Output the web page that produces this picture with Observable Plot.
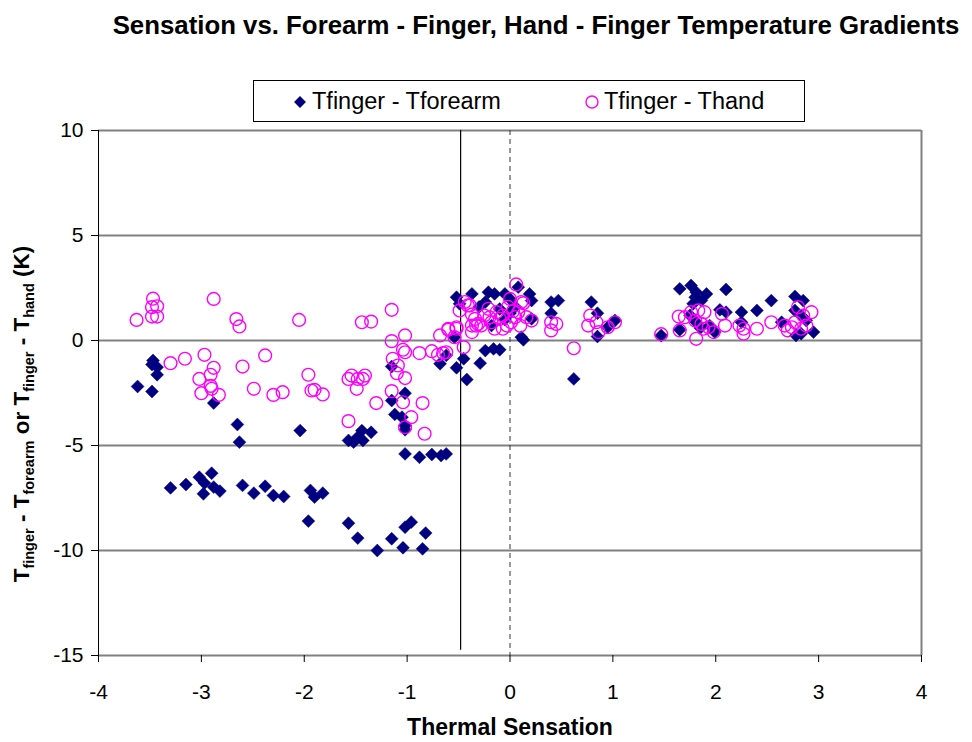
<!DOCTYPE html>
<html><head><meta charset="utf-8">
<script src="https://cdn.jsdelivr.net/npm/d3@7"></script>
<script src="https://cdn.jsdelivr.net/npm/@observablehq/plot@0.6"></script>
<style>
body{margin:0;background:#fff;font-family:"Liberation Sans",Arial,sans-serif;}
#wrap{position:relative;width:972px;height:742px;overflow:hidden;}
#title{position:absolute;left:100px;top:11px;width:872px;text-align:center;font-weight:bold;font-size:25.8px;white-space:nowrap;color:#000;}
#legend{position:absolute;left:253px;top:80px;width:550px;height:40px;border:1px solid #000;background:#fff;font-size:23.5px;color:#000;}
#legend .item{position:absolute;top:0;height:40px;line-height:40px;white-space:nowrap;}
#legend svg{position:absolute;top:13px;}
#chart{position:absolute;left:0;top:0;}
</style></head>
<body>
<div id="wrap">
  <div id="chart"></div>
  <div id="title">Sensation vs. Forearm - Finger, Hand - Finger Temperature Gradients</div>
  <div id="legend"></div>
</div>
<script>
const xTicks = [-4,-3,-2,-1,0,1,2,3,4];
const yTicks = [-15,-10,-5,0,5,10];
const seriesNames = ["Tfinger - Tforearm", "Tfinger - Thand"];

// Tfinger - Tforearm: [thermal sensation, gradient K]
const forearmSensation = [
 -3.47,-3.48,-3.43,-3.43,-3.62,-3.48,-2.88,-2.65,-2.63,-2.04,
 -3.30,-3.15,-3.02,-2.90,-2.97,-2.88,-2.98,-2.82,-2.60,-2.49,-2.38,-2.30,-2.20,-1.94,-1.90,-1.82,-1.96,
 -1.57,-1.52,-1.44,-1.43,-1.35,-1.48,
 -1.15,-1.15,-1.02,-1.12,-1.05,-1.02,-1.02,-1.02,-0.88,-0.76,-0.67,-0.62,
 -0.68,-0.62,-0.52,-0.42,-0.45,-0.29,-0.24,-0.16,-0.10,0.13,
 -1.57,-1.48,-1.29,-1.15,-1.02,-0.96,-1.04,-0.85,-0.82,
 -0.52,-0.49,-0.37,-0.21,-0.15,-0.05,0.08,0.19,0.21,-0.24,-0.18,0.11,-0.54,0.21,-0.10,0.00,-0.05,0.05,0.00,-0.30,
 0.40,0.47,0.40,0.79,0.85,0.85,0.95,1.02,0.62,
 1.47,1.65,1.65,1.76,1.81,1.80,1.91,1.78,1.86,2.10,2.04,2.10,2.25,2.40,2.54,2.25,2.77,2.85,2.77,2.83,2.88,2.95,2.83,2.78,2.64,1.81,1.94,1.99,1.75,1.85
];
const forearmGradient = [
 -0.95,-1.14,-1.27,-1.63,-2.19,-2.43,-2.98,-4.00,-4.84,-4.29,
 -7.02,-6.86,-6.51,-6.32,-6.79,-6.98,-7.30,-7.17,-6.90,-7.27,-6.94,-7.38,-7.43,-7.14,-7.46,-7.27,-8.60,
 -4.76,-4.84,-4.29,-4.76,-4.37,-4.60,
 -1.24,-2.86,-2.51,-3.52,-3.65,-4.05,-4.25,-5.40,-5.56,-5.43,-5.48,-5.40,
 -1.11,-0.71,-1.30,-1.86,-0.87,-1.08,-0.48,-0.40,-0.44,0.03,
 -8.70,-9.41,-10.00,-9.44,-8.89,-8.65,-9.87,-9.92,-9.17,
 2.06,1.75,2.22,2.30,2.22,2.22,2.54,2.22,1.90,1.83,0.71,0.16,0.16,1.03,1.50,1.30,1.00,1.60,1.98,1.60,
 1.83,1.90,1.30,1.83,1.30,0.19,0.63,0.95,-1.83,
 0.24,0.51,2.46,2.62,2.30,2.06,2.22,1.75,1.90,2.43,1.46,1.35,1.35,1.43,1.90,0.87,2.10,1.90,1.43,1.19,0.95,0.40,0.32,0.24,0.87,0.87,0.71,0.40,1.20,0.60
];

// Tfinger - Thand
const handSensation = [
 -3.47,-3.48,-3.43,-3.63,-3.48,-3.43,-2.88,-2.66,-2.63,-2.05,
 -3.30,-3.16,-2.97,-2.88,-2.91,-3.02,-2.91,-2.90,-3.00,-2.83,-2.60,-2.49,-2.38,-2.30,-2.21,-1.96,-1.93,-1.90,-1.82,
 -1.44,-1.35,-1.15,-1.15,-1.02,-1.04,-1.02,-1.14,-1.09,-1.10,-1.02,-1.15,-1.04,-0.96,-1.02,-0.85,-0.83,-1.30,-1.57,
 -1.57,-1.54,-1.48,-1.41,-1.49,-1.43,
 -0.88,-0.76,-0.70,-0.65,-0.62,
 -0.68,-0.60,-0.52,-0.54,-0.45,
 -0.49,-0.41,-0.37,-0.33,-0.37,
 0.06,0.13,0.00,0.11,-0.39,-0.44,
 -0.34,-0.31,-0.25,-0.21,-0.18,-0.13,-0.10,-0.07,-0.03,0.01,0.05,0.08,0.16,0.21,-0.15,-0.07,-0.60,-0.52,-0.37,-0.28,0.03,-0.02,0.10,-0.20,
 0.40,0.45,0.40,0.62,0.76,0.84,0.86,0.95,1.02,0.78,
 1.47,1.64,1.70,1.76,1.83,1.89,1.80,1.86,1.93,1.98,1.81,1.88,2.06,2.09,1.65,
 2.23,2.27,2.27,2.40,2.54,2.67,2.74,2.77,2.80,2.85,2.93,2.88,2.70,2.83
];
const handGradient = [
 1.99,1.59,1.63,0.98,1.14,1.14,1.98,1.02,0.67,0.98,
 -1.08,-0.87,-0.68,-1.30,-1.63,-1.83,-2.16,-2.30,-2.51,-2.59,-1.24,-2.30,-0.71,-2.59,-2.46,-1.63,-2.38,-2.35,-2.57,
 0.87,0.90,1.46,-0.03,0.24,-0.44,-0.56,-0.87,-1.19,-1.56,-1.79,-2.41,-2.94,-3.65,-4.13,-2.98,-4.44,-2.98,-3.84,
 -1.83,-1.67,-1.83,-1.67,-2.30,-1.83,
 -0.60,-0.51,-0.68,-0.60,-0.56,
 0.24,0.51,0.56,0.16,-0.32,
 1.43,1.67,1.24,0.71,0.40,
 2.67,1.78,1.98,1.83,1.67,1.83,
 1.03,0.79,1.19,1.51,0.87,1.35,1.03,1.19,0.71,0.87,1.11,1.35,1.11,0.95,0.56,0.56,0.56,0.63,0.71,0.71,1.40,1.60,0.70,1.10,
 0.87,0.79,0.48,-0.37,0.71,0.87,0.40,0.63,0.87,1.19,
 0.30,1.14,1.11,1.35,1.43,1.35,0.95,0.79,0.63,0.40,0.08,0.56,1.27,0.71,0.48,
 0.71,0.56,0.32,0.56,0.87,0.71,0.63,0.87,1.59,1.19,1.35,0.71,0.48,0.56
];

const forearm = forearmSensation.map((x,i)=>({x, y:forearmGradient[i]}));
const hand = handSensation.map((x,i)=>({x, y:handGradient[i]}));

const FONT = '"Liberation Sans", Arial, sans-serif';
const NAVY = "#000080", PINK = "#FF00FF";

const chart = Plot.plot({
  width: 972, height: 742,
  marginLeft: 98, marginRight: 51, marginTop: 130, marginBottom: 87,
  style: {fontFamily: FONT, fontSize: "21px", color: "#000", background: "transparent"},
  x: {domain: [-4, 4], label: null},
  y: {domain: [-15, 10], label: null},
  marks: [
    Plot.ruleY(yTicks, {stroke: "#808080", strokeWidth: 2}),
    Plot.ruleX([4], {stroke: "#808080", strokeWidth: 2}),
    Plot.ruleX([0], {stroke: "#333", strokeWidth: 1, strokeDasharray: "5,4"}),
    Plot.ruleX([-0.48], {y1: 10, y2: -14.75, stroke: "#000", strokeWidth: 1.2}),
    Plot.ruleX([-4], {stroke: "#000", strokeWidth: 1}),
    Plot.axisX({ticks: xTicks, tickSize: 7, tickPadding: 22, tickFormat: d => String(d), fontSize: 21, stroke: "#000"}),
    Plot.axisY({ticks: yTicks, tickSize: 7, tickPadding: 8, tickFormat: d => String(d), fontSize: 21, stroke: "#000"}),
    Plot.dot(forearm, {x: "x", y: "y", symbol: "diamond2", r: 5.8, fill: NAVY, stroke: NAVY, strokeWidth: 0.5}),
    Plot.dot(hand, {x: "x", y: "y", symbol: "circle", r: 6.4, fill: "none", stroke: PINK, strokeWidth: 1.4}),
    Plot.text(["Thermal Sensation"], {frameAnchor: "bottom", dy: 79, fontSize: 23, fontWeight: "bold", fill: "#000"})
  ]
});
document.getElementById("chart").appendChild(chart);

// rotated y-axis title with subscripts
const svg = d3.select(chart);
const yl = svg.append("text")
  .attr("transform", "translate(29,414) rotate(-90)")
  .attr("text-anchor", "middle")
  .attr("font-family", FONT).attr("font-weight", "bold").attr("font-size", 22.5).attr("fill", "#000");
const parts = [["T",0],["finger",1],[" - T",0],["forearm",1],[" or T",0],["finger",1],[" - T",0],["hand",1],[" (K)",0]];
let sub = false;
parts.forEach(([s, isSub]) => {
  const ts = yl.append("tspan").text(s);
  if (isSub) { ts.attr("font-size", 14.5).attr("dy", sub ? 0 : 5); sub = true; }
  else { ts.attr("dy", sub ? -5 : 0); sub = false; }
});

// legend
const lg = d3.select("#legend");
const entries = [
  {name: seriesNames[0], left: 38, kind: "diamond"},
  {name: seriesNames[1], left: 330, kind: "circle"}
];
entries.forEach(e => {
  const s = lg.append("svg").attr("width", 16).attr("height", 16).style("left", (e.left) + "px");
  if (e.kind === "diamond") s.append("path").attr("d", d3.symbol(d3.symbolDiamond2, 90)()).attr("transform", "translate(8,8)").attr("fill", NAVY);
  else s.append("circle").attr("cx", 8).attr("cy", 8).attr("r", 6).attr("fill", "none").attr("stroke", PINK).attr("stroke-width", 1.4);
  lg.append("div").attr("class", "item").style("left", (e.left + 20) + "px").text(e.name);
});
</script>
</body></html>
